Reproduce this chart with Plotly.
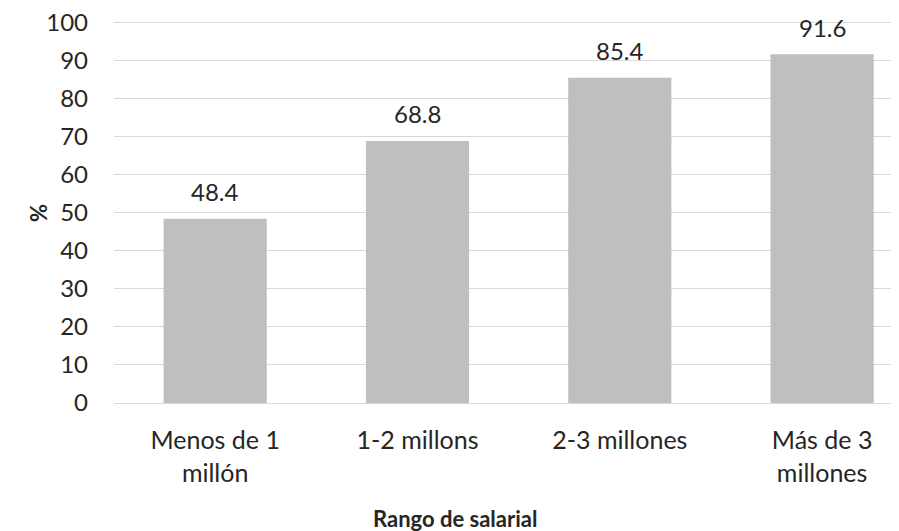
import plotly.graph_objects as go

categories = ["Menos de 1<br>millón", "1-2 millons", "2-3 millones", "Más de 3<br>millones"]
values = [48.4, 68.8, 85.4, 91.6]
y_ticks = [0, 10, 20, 30, 40, 50, 60, 70, 80, 90, 100]

FONT = "Lato, Carlito, Calibri, sans-serif"
TXT = "#262626"

fig = go.Figure(go.Bar(
    x=categories, y=values,
    marker=dict(color="#BFBFBF", line=dict(width=0)),
    width=0.51,
    cliponaxis=False,
))

annotations = [
    dict(x=c, y=v, text=f"{v:.1f}", showarrow=False, yanchor="middle", yshift=27,
         font=dict(family=FONT, size=24, color=TXT))
    for c, v in zip(categories, values)
]

fig.update_layout(
    width=891, height=523,
    margin=dict(l=106, r=0, t=13, b=128),
    plot_bgcolor="white", paper_bgcolor="white",
    showlegend=False,
    font=dict(family=FONT, size=24, color=TXT),
    xaxis=dict(
        range=[-0.5, 3.38],
        showgrid=False, showline=False, zeroline=False,
        ticks="", tickfont=dict(family=FONT, size=25, color=TXT),
        ticklabelstandoff=20,
    ),
    yaxis=dict(
        range=[0, 100.3], tickvals=y_ticks,
        showgrid=True, gridcolor="#D9D9D9", gridwidth=1.3,
        zeroline=True, zerolinecolor="#D9D9D9", zerolinewidth=1.3,
        showline=False, ticks="",
        tickfont=dict(family=FONT, size=24, color=TXT),
        ticklabelstandoff=25, ticklabeloverflow="allow",
    ),
    annotations=annotations + [
        dict(text="<b>Rango de salarial</b>", xref="paper", yref="paper",
             x=(455 - 114) / 785, y=0, yshift=-115, showarrow=False,
             font=dict(family=FONT, size=22, color=TXT), xanchor="center", yanchor="middle"),
        dict(text="<b>%</b>", xref="paper", yref="paper",
             x=0, xshift=-76, y=(403 - 213) / 382, textangle=-90, showarrow=False,
             font=dict(family=FONT, size=22, color=TXT), xanchor="center", yanchor="middle"),
    ],
)

fig.write_html("out.html")
